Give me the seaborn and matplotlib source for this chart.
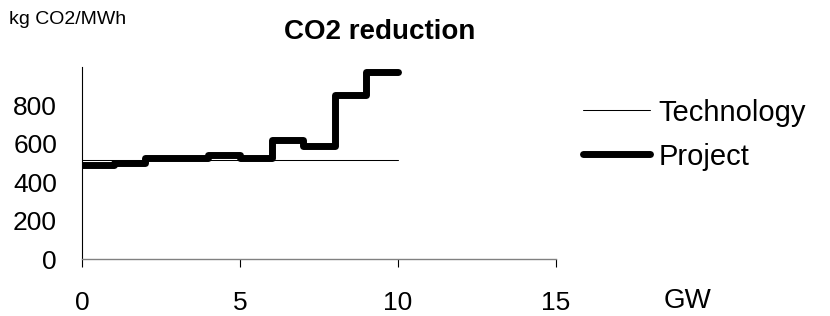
import pandas as pd
import matplotlib.pyplot as plt
import seaborn as sns

# Data
gw_edges = [0, 1, 2, 3, 4, 5, 6, 7, 8, 9, 10]
project_co2 = [490, 500, 525, 525, 540, 525, 620, 590, 855, 975, 975]
tech_gw = [0, 10]
tech_co2 = [515, 515]

sns.set_theme(style="white")
plt.rcParams['font.family'] = ['Liberation Sans', 'DejaVu Sans']
plt.rcParams['text.color'] = 'black'
plt.rcParams['xtick.color'] = 'black'
plt.rcParams['ytick.color'] = 'black'

fig = plt.figure(figsize=(8.3, 3.16), dpi=100)
ax = fig.add_axes([0.0988, 0.180, 0.5712, 0.608])

proj = pd.DataFrame({'GW': gw_edges, 'CO2': project_co2})
tech = pd.DataFrame({'GW': tech_gw, 'CO2': tech_co2})

sns.lineplot(data=tech, x='GW', y='CO2', ax=ax, color='black', linewidth=0.75,
             label='Technology')
sns.lineplot(data=proj, x='GW', y='CO2', ax=ax, color='black', linewidth=5,
             drawstyle='steps-post', label='Project', solid_joinstyle='round',
             solid_capstyle='round')

ax.set_xlim(0, 15)
ax.set_ylim(0, 1000)
ax.set_xticks([0, 5, 10, 15])
ax.set_yticks([0, 200, 400, 600, 800])
ax.set_yticks([0], minor=True)
ax.set_xlabel('')
ax.set_ylabel('')

for s in ['top', 'right']:
    ax.spines[s].set_visible(False)
ax.spines['left'].set_color('black')
ax.spines['left'].set_linewidth(0.8)
ax.spines['bottom'].set_color('#808080')
ax.spines['bottom'].set_linewidth(1.0)
ax.tick_params(axis='x', labelsize=19, direction='out', length=6, width=0.8,
               color='black', bottom=True, pad=17)
ax.tick_params(axis='y', which='major', labelsize=19, length=0, pad=18,
               left=False)
ax.tick_params(axis='y', which='minor', length=6, width=1.0, color='#808080',
               left=True)

fig.text(0.457, 0.898, 'CO2 reduction', fontsize=20, fontweight='bold',
         ha='center', va='center')
fig.text(0.011, 0.937, 'kg CO2/MWh', fontsize=14, ha='left', va='center')
fig.text(0.799, 0.047, 'GW', fontsize=20, ha='left', va='center')

ax.legend(loc='center left', bbox_to_anchor=(1.057, 0.648), frameon=False,
          fontsize=21, handlelength=2.3, handletextpad=0.28, labelspacing=0.55,
          borderpad=0, borderaxespad=0)

fig.savefig('out.png', dpi=100)
